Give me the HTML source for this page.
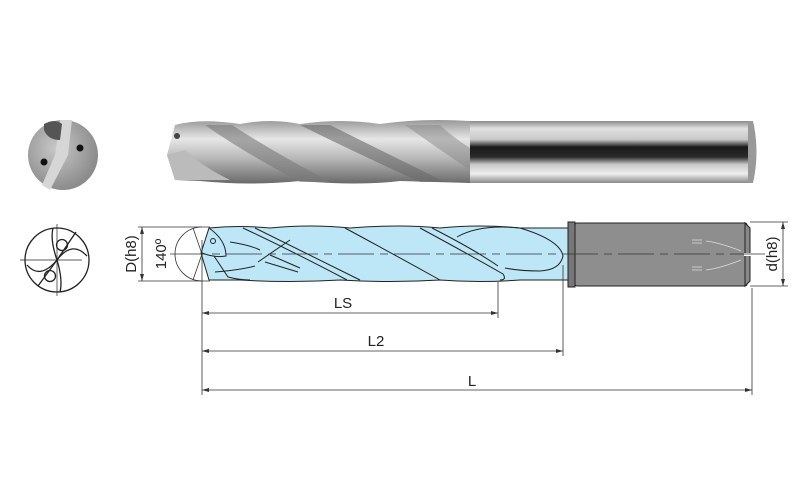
<!DOCTYPE html>
<html><head><meta charset="utf-8"><style>
html,body{margin:0;padding:0;background:#fff}
svg{display:block}
text{font-family:"Liberation Sans",Arial,sans-serif;fill:#222}
</style></head><body>
<svg width="800" height="500" viewBox="0 0 800 500" xmlns="http://www.w3.org/2000/svg">
<defs>
<linearGradient id="sh" x1="0" y1="0" x2="0" y2="1">
<stop offset="0" stop-color="#8a8a8a"/><stop offset="0.12" stop-color="#e0e0e0"/>
<stop offset="0.3" stop-color="#c8c8c8"/><stop offset="0.42" stop-color="#1a1a1a"/>
<stop offset="0.58" stop-color="#2a2a2a"/><stop offset="0.7" stop-color="#c8c8c8"/>
<stop offset="0.85" stop-color="#eee"/><stop offset="1" stop-color="#8a8a8a"/>
</linearGradient>
<linearGradient id="fl" x1="0" y1="0" x2="0" y2="1">
<stop offset="0" stop-color="#999"/><stop offset="0.3" stop-color="#e6e6e6"/>
<stop offset="0.6" stop-color="#b8b8b8"/><stop offset="1" stop-color="#6a6a6a"/>
</linearGradient>
<radialGradient id="ev" cx="0.4" cy="0.4" r="0.6">
<stop offset="0" stop-color="#c8c8c8"/><stop offset="1" stop-color="#8c8c8c"/>
</radialGradient>
</defs>

<!-- top end view photo -->
<circle cx="63" cy="155" r="35" fill="url(#ev)"/>
<path d="M60 120 L72 120 L68 155 L50 190 L42 185 L55 155 Z" fill="#d6d6d6"/>
<path d="M44 124 Q55 118 62 124 L60 140 Q48 140 44 130 Z" fill="#555"/>
<circle cx="80" cy="148" r="3.5" fill="#111"/>
<circle cx="44" cy="162" r="3.5" fill="#111"/>

<!-- top drill photo -->
<rect x="467" y="121" width="286" height="62" fill="url(#sh)"/>
<path d="M753 121 L748 121 L748 183 L753 183 Q760 152 753 121Z" fill="#999"/>
<path d="M175 125 Q200 118 240 124 Q270 118 300 124 Q340 118 380 124 Q420 118 470 121 L470 183 L400 181 Q360 186 300 181 Q250 186 200 181 L175 180 L167 155 Z" fill="url(#fl)"/>
<path d="M205 125 Q240 150 300 182 L330 182 Q270 150 232 125Z" fill="#7a7a7a" opacity="0.6"/>
<path d="M300 125 Q350 150 420 182 L445 182 Q380 150 330 125Z" fill="#6a6a6a" opacity="0.6"/>
<path d="M405 125 Q440 150 470 170 L470 148 Q450 135 440 125Z" fill="#888" opacity="0.5"/>
<path d="M167 155 L175 180 L230 180 Q200 165 185 150Z" fill="#bbb"/>
<circle cx="177" cy="136" r="3" fill="#444"/>

<!-- bottom end view drawing -->
<g fill="none" stroke="#222" stroke-width="1.3">
<circle cx="57" cy="260" r="32"/>
<line x1="20" y1="260" x2="82" y2="260" stroke-width="0.7"/>
<line x1="57" y1="224" x2="57" y2="296" stroke-width="0.7"/>
<path d="M57 260 Q50 240 53 228"/><path d="M57 260 Q40 280 27 265"/>
<path d="M57 260 Q63 280 60 292"/><path d="M57 260 Q72 240 87 256"/>
<path d="M57 260 L38 286"/><path d="M57 260 L76 232"/>
<circle cx="62" cy="245" r="5.5"/><circle cx="50" cy="276" r="5.5"/>
</g>

<!-- bottom drill: blue body -->
<path d="M209 228 Q240 225 270 228 Q310 224 350 228 Q400 224 440 228 Q480 224 520 228 L572 228 L572 280 L520 280 Q480 283 440 280 Q390 283 340 280 Q290 283 240 280 L209 280 L201 253 Z" fill="#bde6f7" stroke="#222" stroke-width="1"/>
<g fill="none" stroke="#222" stroke-width="1">
<path d="M209 228 Q226 240 226 256 Q215 258 202 253"/>
<path d="M214 256 L228 277 Q240 280 250 280"/>
<path d="M243 228 Q300 255 347 280"/>
<path d="M255 228 Q310 255 360 280"/>
<path d="M345 228 Q395 255 440 280"/>
<path d="M420 228 Q470 255 503 274 Q507 280 500 280"/>
<path d="M432 228 Q475 250 498 266"/>
<path d="M457 237 Q480 224 520 228"/>
<path d="M520 228 Q560 240 563 256 Q560 270 540 271 Q520 271 505 268"/>
<path d="M230 242 Q250 245 260 250"/><path d="M215 272 Q240 270 255 266"/>
<path d="M258 262 L290 240"/><path d="M265 262 L298 272"/><path d="M270 255 L300 268"/>
</g>
<circle cx="213" cy="241" r="2.5" fill="none" stroke="#222"/>
<!-- shank -->
<rect x="568" y="222" width="7" height="65" fill="#777" stroke="#222" stroke-width="1"/>
<rect x="575" y="223" width="172" height="63" rx="2" fill="#8e8e8e" stroke="#222" stroke-width="1"/>
<path d="M745 223 L750 228 L750 281 L745 286Z" fill="#888" stroke="#222"/>
<g stroke="#ddd" stroke-width="0.8" fill="none">
<path d="M692 240 h10 M692 243 h10 M706 241 q15 2 35 10 M706 270 q15 -2 35 -10 M692 267 h10 M692 270 h10"/>
</g>
<rect x="744" y="253" width="8" height="3" fill="#fff"/>

<!-- centerline -->
<line x1="170" y1="254" x2="765" y2="254" stroke="#333" stroke-width="0.8" stroke-dasharray="36,6,8,6"/>

<!-- 140 angle & dims -->
<g fill="none" stroke="#333" stroke-width="0.8">
<path d="M202 227 A27 27 0 0 0 202 281"/>
<line x1="202" y1="254" x2="193" y2="228"/><line x1="202" y1="254" x2="193" y2="280"/>
<line x1="202" y1="240" x2="202" y2="395"/>
<line x1="138" y1="227" x2="210" y2="227"/><line x1="138" y1="281" x2="210" y2="281"/>
<line x1="142" y1="227" x2="142" y2="281"/>
<line x1="498" y1="282" x2="498" y2="318"/>
<line x1="563" y1="265" x2="563" y2="356"/>
<line x1="752" y1="288" x2="752" y2="395"/>
<line x1="750" y1="222" x2="788" y2="222"/><line x1="750" y1="286" x2="788" y2="286"/>
<line x1="783" y1="222" x2="783" y2="286"/>
<line x1="202" y1="313" x2="498" y2="313"/>
<line x1="202" y1="351" x2="563" y2="351"/>
<line x1="202" y1="390" x2="752" y2="390"/>
</g>
<g fill="#333">
<path d="M142 227 l-2 7 h4z"/><path d="M142 281 l-2 -7 h4z"/>
<path d="M783 222 l-2 7 h4z"/><path d="M783 286 l-2 -7 h4z"/>
<path d="M202 313 l7 -2 v4z"/><path d="M498 313 l-7 -2 v4z"/>
<path d="M202 351 l7 -2 v4z"/><path d="M563 351 l-7 -2 v4z"/>
<path d="M202 390 l7 -2 v4z"/><path d="M752 390 l-7 -2 v4z"/>
</g>
<text x="0" y="0" font-size="15" transform="translate(136,254) rotate(-90)" text-anchor="middle">D(h8)</text>
<text x="0" y="0" font-size="15" transform="translate(166,254) rotate(-90)" text-anchor="middle">140º</text>
<text x="0" y="0" font-size="15" transform="translate(777,254) rotate(-90)" text-anchor="middle">d(h8)</text>
<text x="343" y="308" font-size="15" text-anchor="middle">LS</text>
<text x="376" y="346" font-size="15" text-anchor="middle">L2</text>
<text x="472" y="386" font-size="15" text-anchor="middle">L</text>
</svg>
</body></html>
